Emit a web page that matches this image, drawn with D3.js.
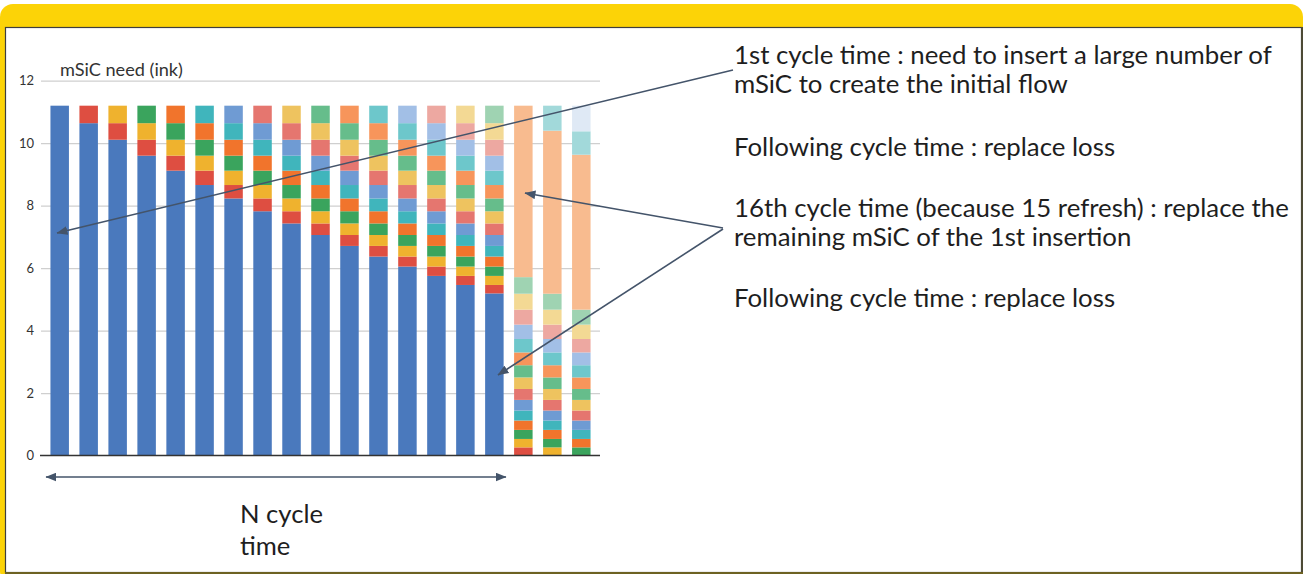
<!DOCTYPE html>
<html>
<head>
<meta charset="utf-8">
<script src="https://cdn.jsdelivr.net/npm/d3@7"></script>
<style>
  html, body { margin: 0; padding: 0; background: #fff; overflow: hidden; }
  svg { display: block; }
</style>
</head>
<body>
<svg id="chart" width="1303" height="574"></svg>
<script>
// Cycle times (one stacked bar each)
const cycles = [1, 2, 3, 4, 5, 6, 7, 8, 9, 10, 11, 12, 13, 14, 15, 16, 17, 18, 19];

// Each batch of mSiC inserted at a cycle: first cycle where it appears, then
// the quantity of that batch still in the flow at each following cycle.
const batchStart = [1, 2, 3, 4, 5, 6, 7, 8, 9, 10, 11, 12, 13, 14, 15, 16, 17, 18, 19];
const batch01 = [11.2, 10.64, 10.11, 9.60, 9.12, 8.66, 8.23, 7.82, 7.43, 7.06, 6.71, 6.37, 6.05, 5.75, 5.46, 5.19];
const batch02 = [0.56, 0.53, 0.51, 0.48, 0.46, 0.43, 0.41, 0.39, 0.37, 0.35, 0.34, 0.32, 0.30, 0.29, 0.27, 0.26];
const batch03 = [0.56, 0.53, 0.51, 0.48, 0.46, 0.43, 0.41, 0.39, 0.37, 0.35, 0.34, 0.32, 0.30, 0.29, 0.27, 0.26];
const batch04 = [0.56, 0.53, 0.51, 0.48, 0.46, 0.43, 0.41, 0.39, 0.37, 0.35, 0.34, 0.32, 0.30, 0.29, 0.27, 0.26];
const batch05 = [0.56, 0.53, 0.51, 0.48, 0.46, 0.43, 0.41, 0.39, 0.37, 0.35, 0.34, 0.32, 0.30, 0.29, 0.27];
const batch06 = [0.56, 0.53, 0.51, 0.48, 0.46, 0.43, 0.41, 0.39, 0.37, 0.35, 0.34, 0.32, 0.30, 0.29];
const batch07 = [0.56, 0.53, 0.51, 0.48, 0.46, 0.43, 0.41, 0.39, 0.37, 0.35, 0.34, 0.32, 0.30];
const batch08 = [0.56, 0.53, 0.51, 0.48, 0.46, 0.43, 0.41, 0.39, 0.37, 0.35, 0.34, 0.32];
const batch09 = [0.56, 0.53, 0.51, 0.48, 0.46, 0.43, 0.41, 0.39, 0.37, 0.35, 0.34];
const batch10 = [0.56, 0.53, 0.51, 0.48, 0.46, 0.43, 0.41, 0.39, 0.37, 0.35];
const batch11 = [0.56, 0.53, 0.51, 0.48, 0.46, 0.43, 0.41, 0.39, 0.37];
const batch12 = [0.56, 0.53, 0.51, 0.48, 0.46, 0.43, 0.41, 0.39];
const batch13 = [0.56, 0.53, 0.51, 0.48, 0.46, 0.43, 0.41];
const batch14 = [0.56, 0.53, 0.51, 0.48, 0.46, 0.43];
const batch15 = [0.56, 0.53, 0.51, 0.48, 0.46];
const batch16 = [0.56, 0.53, 0.51, 0.48];
const batch17 = [5.49, 5.22, 4.96];
const batch18 = [0.80, 0.75];
const batch19 = [0.82];

const batches = [batch01, batch02, batch03, batch04, batch05, batch06, batch07, batch08, batch09, batch10,
                 batch11, batch12, batch13, batch14, batch15, batch16, batch17, batch18, batch19];

const batchColors = ["#4a79bd", "#de4e41", "#efb22e", "#3aa45d", "#f1742c", "#40b5bc", "#6f9bd3", "#e5766f",
                     "#eec35f", "#66bd8b", "#f7955b", "#6dc7cb", "#a2bfe6", "#eda8a1", "#f3d994", "#9fd3b2",
                     "#f8bb8f", "#a2d9da", "#dfe9f5"];

const yTicks = [0, 2, 4, 6, 8, 10, 12];
const yTitle = "mSiC need (ink)";

const notes = [
  "1st cycle time : need to insert a large number of",
  "mSiC to create the initial flow",
  "Following cycle time : replace loss",
  "16th cycle time (because 15 refresh) : replace the",
  "remaining mSiC of the 1st insertion",
  "Following cycle time : replace loss"
];
const spanLabel = ["N cycle", "time"];

// ---------- table for d3.stack ----------
const keys = batches.map((_, i) => "b" + (i + 1));
const table = cycles.map(c => {
  const row = { cycle: c };
  batches.forEach((vals, i) => {
    const k = c - batchStart[i];
    row[keys[i]] = (k >= 0 && k < vals.length) ? vals[k] : 0;
  });
  return row;
});
const series = d3.stack().keys(keys)(table);

const svg = d3.select("#chart");
const FONT = "Lato, 'Open Sans', sans-serif";

// scale a text selection so its first node spans the given width
function fitWidth(sel, base, target) {
  sel.style("font-size", base + "px");
  const w = sel.nodes()[0].getComputedTextLength();
  sel.style("font-size", (base * target / w) + "px");
}

// ---------- frame ----------
svg.append("rect").attr("x", 0).attr("y", 4).attr("width", 1303).attr("height", 580)
  .attr("rx", 13).attr("fill", "#fcd307");
svg.append("rect").attr("x", 5.5).attr("y", 27.5).attr("width", 1296).attr("height", 545)
  .attr("fill", "#fff").attr("stroke", "#3e3e3e").attr("stroke-width", 1.2);
svg.append("line").attr("x1", 1302).attr("x2", 1302).attr("y1", 27).attr("y2", 573)
  .attr("stroke", "#4d4a35").attr("stroke-width", 2);
svg.append("line").attr("x1", 5).attr("x2", 1303).attr("y1", 573).attr("y2", 573)
  .attr("stroke", "#6d6222").attr("stroke-width", 2);

// ---------- scales ----------
const x = d3.scaleBand().domain(cycles).range([41, 600]).paddingInner(0.362).paddingOuter(0.326);
const y = d3.scaleLinear().domain([0, 12]).range([455.5, 80.7]);

// gridlines + tick labels
const gAxis = svg.append("g").attr("transform", "translate(41,0)")
  .call(d3.axisLeft(y).tickValues(yTicks).tickSize(-559).tickPadding(7).tickFormat(d3.format("d")));
gAxis.select(".domain").remove();
gAxis.selectAll(".tick line").attr("stroke", "#cfcfcf").attr("stroke-width", 1.3)
  .attr("display", d => d === 0 ? "none" : null);
gAxis.selectAll(".tick text").attr("fill", "#333").style("font-family", FONT).style("font-size", "13px");

// bars
svg.append("g").selectAll("g").data(series).join("g")
  .attr("fill", (s, i) => batchColors[i])
  .selectAll("rect").data(s => s.filter(d => d[1] - d[0] > 0)).join("rect")
  .attr("x", d => x(d.data.cycle))
  .attr("width", x.bandwidth())
  .attr("y", d => y(d[1]))
  .attr("height", d => y(d[0]) - y(d[1]));

// baseline
svg.append("line").attr("x1", 40).attr("x2", 600).attr("y1", y(0)).attr("y2", y(0))
  .attr("stroke", "#333").attr("stroke-width", 1.5);

// axis title
const title = svg.append("text").attr("x", 60).attr("y", 76).text(yTitle)
  .attr("fill", "#333").style("font-family", FONT);
fitWidth(title, 16, 123);

// ---------- annotation arrows ----------
const defs = svg.append("defs");
defs.append("marker").attr("id", "head").attr("markerUnits", "userSpaceOnUse")
  .attr("viewBox", "0 0 10 8").attr("markerWidth", 11).attr("markerHeight", 9)
  .attr("refX", 9.5).attr("refY", 4).attr("orient", "auto-start-reverse")
  .append("path").attr("d", "M0,0 L10,4 L0,8 Z").attr("fill", "#44546a");

const arrows = [
  { x1: 733, y1: 70, x2: 57, y2: 233, start: false },
  { x1: 723, y1: 228, x2: 525, y2: 193, start: false },
  { x1: 723, y1: 229, x2: 498, y2: 375, start: false },
  { x1: 46, y1: 477, x2: 506, y2: 477, start: true }
];
svg.append("g").selectAll("line").data(arrows).join("line")
  .attr("x1", d => d.x1).attr("y1", d => d.y1).attr("x2", d => d.x2).attr("y2", d => d.y2)
  .attr("stroke", "#44546a").attr("stroke-width", 1.6)
  .attr("marker-end", "url(#head)")
  .attr("marker-start", d => d.start ? "url(#head)" : null);

// ---------- annotation text ----------
const noteY = [64, 93, 156, 217, 246, 307];
const noteText = svg.append("g").style("font-family", FONT).attr("fill", "#1e1e1e")
  .selectAll("text").data(notes).join("text")
  .attr("x", 734).attr("y", (d, i) => noteY[i]).text(d => d);
fitWidth(noteText, 22, 538);

const spanText = svg.append("g").style("font-family", FONT).attr("fill", "#1e1e1e")
  .selectAll("text").data(spanLabel).join("text")
  .attr("x", 240).attr("y", (d, i) => [523, 555][i]).text(d => d);
fitWidth(spanText, 25, 83);
</script>
</body>
</html>
